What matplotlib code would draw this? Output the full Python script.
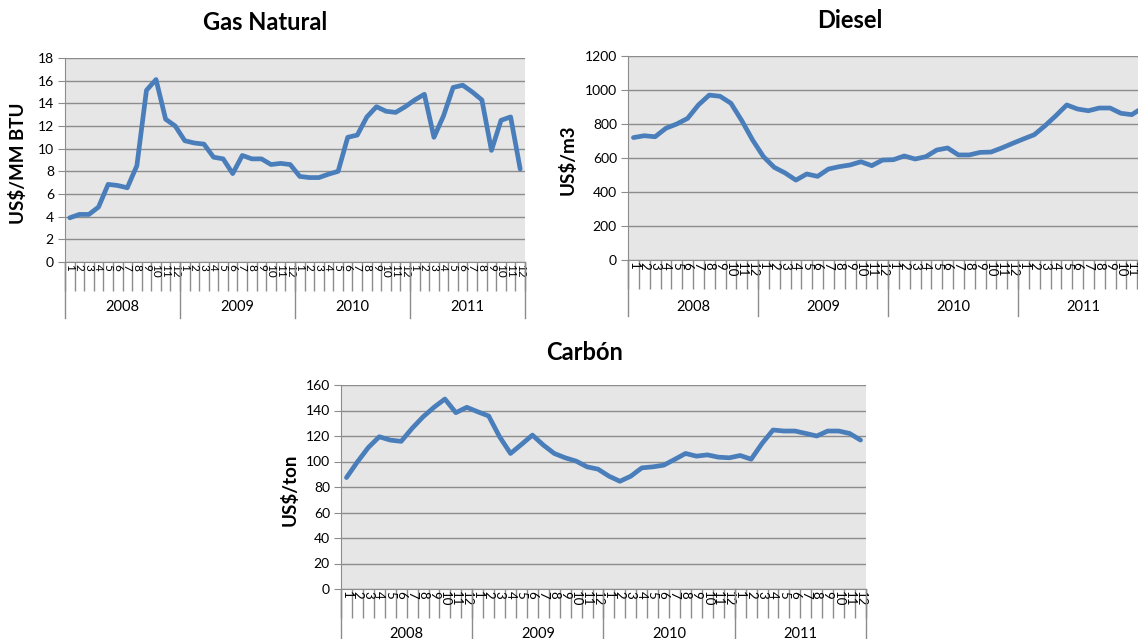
import numpy as np
import matplotlib.pyplot as plt
from matplotlib import transforms

plt.rcParams["font.family"] = ["Lato", "DejaVu Sans"]

# monthly prices 2008-2011
years = ["2008", "2009", "2010", "2011"]
months = [str(m) for m in range(1, 13)]

gas_natural = [
    3.9, 4.2, 4.2, 4.85, 6.85, 6.75, 6.55, 8.5, 15.15, 16.1, 12.6, 12.0,
    10.7, 10.5, 10.4, 9.25, 9.1, 7.8, 9.4, 9.1, 9.1, 8.6, 8.7, 8.6,
    7.55, 7.45, 7.45, 7.75, 8.0, 11.0, 11.2, 12.8, 13.7, 13.3, 13.2, 13.7,
    14.3, 14.8, 11.0, 12.9, 15.4, 15.6, 15.0, 14.3, 9.85, 12.5, 12.8, 8.2,
]
diesel = [
    720, 731, 725, 775, 800, 833, 912, 970, 963, 922, 820, 706,
    608, 545, 512, 470, 506, 492, 535, 549, 559, 578, 555, 588,
    590, 612, 594, 608, 647, 659, 618, 618, 633, 635, 659, 686,
    712, 737, 790, 849, 912, 888, 878, 894, 894, 863, 855, 895,
]
carbon = [
    87.4, 99.7, 111, 119.4, 116.8, 115.8, 126, 135, 142.5, 149, 138.3, 142.5,
    139, 135.7, 119.4, 106.3, 113.4, 120.7, 112.9, 106.3, 102.9, 100.3, 95.8, 94,
    88.5, 84.5, 88.5, 95, 95.8, 97.1, 101.6, 106.3, 104.2, 105.2, 103.4, 102.9,
    104.7, 101.8, 114.2, 124.7, 123.9, 123.9, 122, 120, 123.9, 123.9, 122, 116.8,
]

LINE_COLOR = "#4a7ebb"
GRID_COLOR = "#8c8c8c"
AREA_COLOR = "#e6e6e6"

W, H = 1138, 639
fig = plt.figure(figsize=(W / 100, H / 100), dpi=100)


def px_axes(left, top, right, bottom):
    return fig.add_axes([left / W, 1 - bottom / H, (right - left) / W, (bottom - top) / H])


def draw_panel(ax, values, ymax, ystep, sep_len, year_pos, month_size):
    n = len(values)
    x = np.arange(n) + 0.5
    ax.set_facecolor(AREA_COLOR)
    ax.plot(x, values, color=LINE_COLOR, lw=3.4,
            solid_joinstyle="round", solid_capstyle="round")
    ax.set_xlim(0, n)
    ax.set_ylim(0, ymax)

    ax.set_yticks(np.arange(0, ymax + ystep / 2, ystep))
    ax.yaxis.grid(True, color=GRID_COLOR, lw=1)
    ax.set_axisbelow(True)
    ax.tick_params(axis="y", length=5, color=GRID_COLOR, labelsize=10, pad=3)

    # month boundaries as long ticks, month numbers in between
    ax.set_xticks(np.arange(n + 1))
    ax.set_xticklabels([])
    ax.tick_params(axis="x", which="major", length=21, width=1, color=GRID_COLOR)
    ax.set_xticks(x, minor=True)
    ax.set_xticklabels(months * len(years), minor=True, rotation=-90, fontsize=month_size)
    ax.tick_params(axis="x", which="minor", length=0, pad=1.5)

    for side in ["top", "right"]:
        ax.spines[side].set_visible(False)
    ax.spines["left"].set_color(GRID_COLOR)
    ax.spines["bottom"].set_color(GRID_COLOR)

    # year group separators and labels
    trans = transforms.blended_transform_factory(ax.transData, ax.transAxes)
    for k in range(len(years) + 1):
        ax.plot([12 * k, 12 * k], [0, -sep_len], transform=trans,
                color=GRID_COLOR, lw=1, clip_on=False)
    for k, yr in enumerate(years):
        ax.text(12 * k + 6, -year_pos, yr, transform=trans,
                ha="center", va="center", fontsize=10.5)


ax1 = px_axes(65, 58, 525, 262)
draw_panel(ax1, gas_natural, 18, 2, 56 / 204, 45 / 204, 8.5)
ax2 = px_axes(628, 56, 1148, 260)
draw_panel(ax2, diesel, 1200, 200, 56 / 204, 47 / 204, 9.5)
ax3 = px_axes(341, 385, 866, 589)
draw_panel(ax3, carbon, 160, 20, 60 / 204, 45 / 204, 9.5)

title_kw = dict(ha="center", va="center", fontsize=17, fontweight="bold")
fig.text(265 / W, 1 - 22 / H, "Gas Natural", **title_kw)
fig.text(850 / W, 1 - 20 / H, "Diesel", **title_kw)
fig.text(585 / W, 1 - 352 / H, "Carbón", **title_kw)

ylab_kw = dict(ha="center", va="center", rotation=90, fontsize=13.5, fontweight="bold")
fig.text(18 / W, 1 - 163 / H, "US$/MM BTU", **ylab_kw)
fig.text(568 / W, 1 - 160 / H, "US$/m3", **ylab_kw)
fig.text(290 / W, 1 - 490 / H, "US$/ton", **ylab_kw)

fig.savefig("out.png", dpi=100)
